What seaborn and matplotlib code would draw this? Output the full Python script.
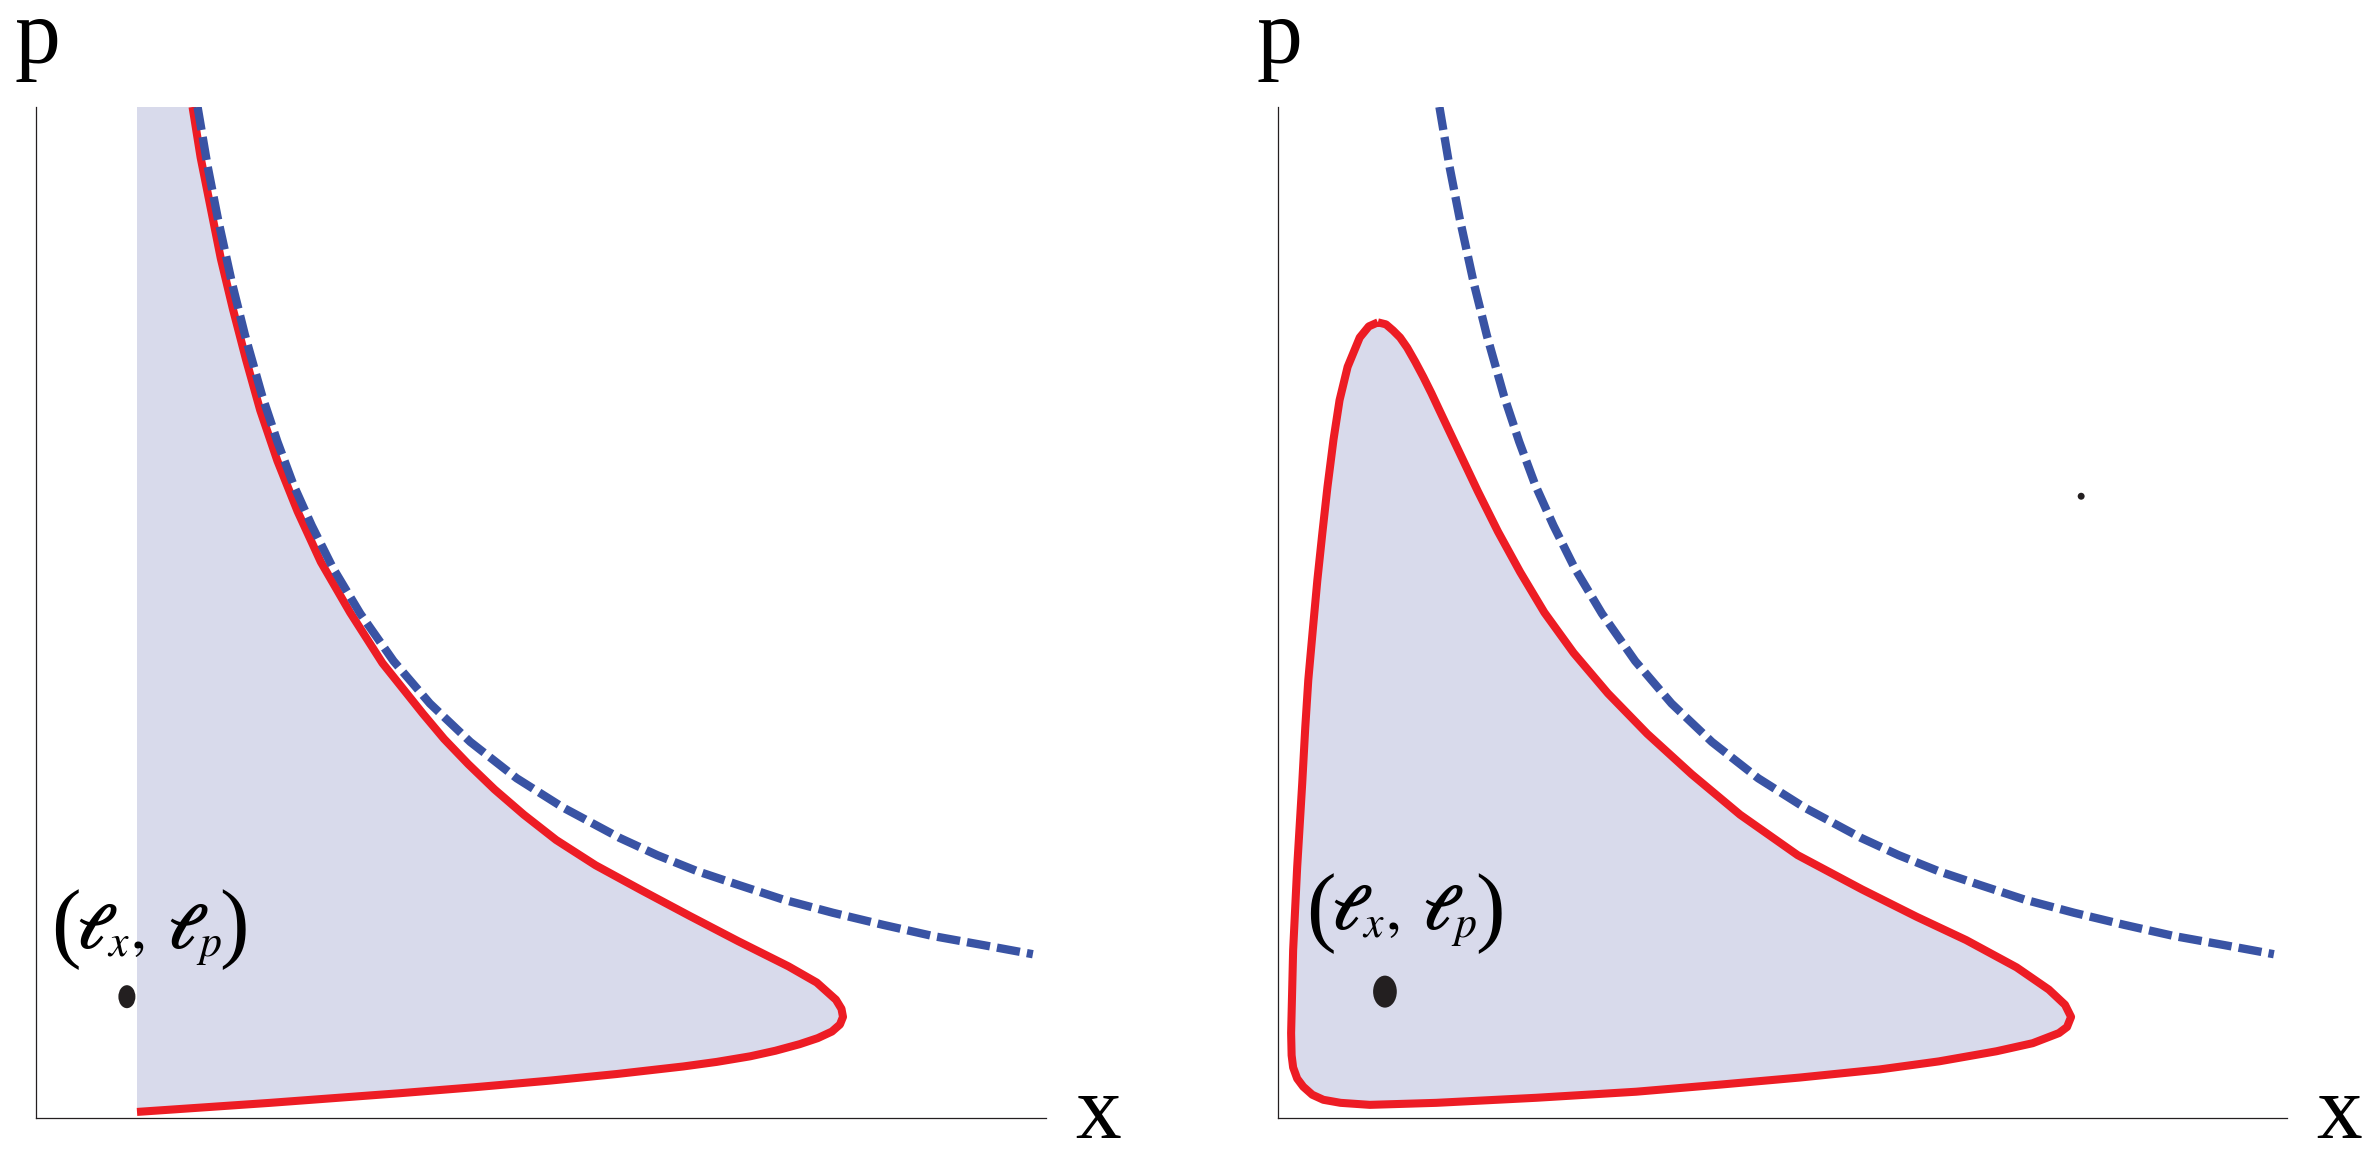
import numpy as np
import matplotlib
matplotlib.use('Agg')
import matplotlib.pyplot as plt
from matplotlib.path import Path
import seaborn as sns

# ---------------------------------------------------------------------------
# data (axes run 0..10 in both x and p)
# ---------------------------------------------------------------------------

# blue dashed bound, identical in both panels
bound_x = [1.60, 1.70, 1.80, 1.94, 2.07, 2.24, 2.39, 2.55, 2.73, 2.94, 3.21,
           3.54, 3.90, 4.30, 4.76, 5.22, 5.78, 6.15, 6.55, 6.94, 7.40, 7.89,
           8.39, 8.88, 9.38, 9.87]
bound_p = [10.00, 9.41, 8.90, 8.26, 7.74, 7.14, 6.69, 6.26, 5.86, 5.44, 4.99,
           4.52, 4.10, 3.72, 3.36, 3.07, 2.77, 2.60, 2.44, 2.31, 2.16, 2.03,
           1.91, 1.80, 1.71, 1.62]

# left panel: red boundary (open at the left edge)
left_red_x = [1.55, 1.63, 1.73, 1.83, 1.95, 2.08, 2.22, 2.39, 2.59, 2.82, 3.11,
              3.43, 3.83, 4.04, 4.28, 4.54, 4.83, 5.15, 5.54, 6.00, 6.47, 6.95,
              7.45, 7.73, 7.92, 7.975, 7.99, 7.96, 7.88, 7.74, 7.56, 7.32, 7.07,
              6.74, 6.41, 5.75, 5.09, 4.35, 3.60, 2.32, 1.00]
left_red_p = [10.00, 9.50, 9.00, 8.50, 8.00, 7.50, 7.00, 6.50, 6.00, 5.50, 5.00,
              4.50, 4.00, 3.75, 3.50, 3.25, 3.00, 2.75, 2.50, 2.25, 2.00, 1.75,
              1.50, 1.34, 1.17, 1.08, 1.00, 0.925, 0.855, 0.79, 0.73, 0.665,
              0.61, 0.555, 0.51, 0.435, 0.37, 0.305, 0.245, 0.15, 0.06]
left_edge_x = 1.00
top_p = 10.00

# right panel: closed red boundary, clockwise from the peak
right_red_x = [0.99, 1.07, 1.14, 1.21, 1.28, 1.36, 1.44, 1.52, 1.60, 1.79, 1.98,
               2.18, 2.40, 2.64, 2.93, 3.27, 3.66, 4.10, 4.58, 5.15, 5.79, 6.33,
               6.82, 7.32, 7.64, 7.80, 7.86, 7.82, 7.74, 7.48, 7.12, 6.55, 5.96,
               5.17, 4.38, 3.55, 2.56, 1.57, 0.91, 0.62, 0.45, 0.34, 0.25, 0.19,
               0.15, 0.135, 0.13, 0.15, 0.19, 0.24, 0.27, 0.30, 0.345, 0.39,
               0.44, 0.49, 0.55, 0.61, 0.69, 0.81, 0.90, 0.99]
right_red_p = [7.87, 7.85, 7.79, 7.72, 7.62, 7.48, 7.33, 7.17, 7.00, 6.60, 6.20,
               5.80, 5.40, 5.00, 4.60, 4.20, 3.80, 3.40, 3.00, 2.60, 2.26, 1.99,
               1.76, 1.49, 1.27, 1.12, 1.00, 0.90, 0.84, 0.74, 0.66, 0.56, 0.48,
               0.40, 0.33, 0.26, 0.20, 0.15, 0.13, 0.15, 0.18, 0.23, 0.31, 0.39,
               0.50, 0.62, 0.84, 1.66, 2.48, 3.31, 3.86, 4.33, 4.83, 5.32, 5.79,
               6.24, 6.71, 7.10, 7.43, 7.72, 7.83, 7.87]

# the (l_x, l_p) points and the small extra point
left_point = (0.90, 1.20)
right_point = (1.06, 1.25)
extra_point = (7.96, 6.15)

# label pieces: inner text (baseline) and the two parentheses (centre)
left_label = (1.124, 1.68)
left_parens = ((0.30, 1.86), (1.96, 1.86))
right_label = (1.25, 1.86)
right_parens = ((0.42, 2.02), (2.10, 2.02))
point_label = r'$\boldsymbol{\ell}_{x},\;\boldsymbol{\ell}_{p}$'

# ---------------------------------------------------------------------------
# style
# ---------------------------------------------------------------------------
sns.set_style('white')
plt.rcParams['font.family'] = ['Liberation Serif', 'DejaVu Serif']
plt.rcParams['mathtext.fontset'] = 'stix'

RED = '#ed1c24'
BLUE = '#3953a4'
FILL = '#d8daeb'
INK = '#231f20'

circ = Path.unit_circle()
ellipse = Path(circ.vertices * np.array([0.74, 1.0]), circ.codes)

fig = plt.figure(figsize=(23.79, 11.64), dpi=100)
ax_l = fig.add_axes([36 / 2379, 46 / 1164, 1010 / 2379, 1011 / 1164])
ax_r = fig.add_axes([1278 / 2379, 46 / 1164, 1009 / 2379, 1011 / 1164])


def setup(ax):
    ax.set_xlim(0, 10)
    ax.set_ylim(0, 10)
    ax.set_xticks([])
    ax.set_yticks([])
    sns.despine(ax=ax)
    for s in ['left', 'bottom']:
        ax.spines[s].set_color(INK)
        ax.spines[s].set_linewidth(0.9)
    ax.text(-0.021, 1.0435, 'p', transform=ax.transAxes, fontsize=66,
            ha='left', va='baseline', color='black')
    ax.text(1.0515, -0.0198, 'x', transform=ax.transAxes, fontsize=66,
            ha='center', va='baseline', color='black')


def draw_label(ax, pos, parens):
    ax.text(pos[0], pos[1], point_label, fontsize=45, ha='center',
            va='baseline', color='black', zorder=6)
    for ch, (px, py) in zip('()', parens):
        ax.text(px, py, ch, fontsize=64, ha='center', va='center',
                color='black', zorder=6)


def draw_curves(ax, red_x, red_p):
    sns.lineplot(x=red_x, y=red_p, sort=False, estimator=None,
                 color=RED, linewidth=5.8, ax=ax, zorder=3)
    sns.lineplot(x=bound_x, y=bound_p, sort=False, estimator=None,
                 color=BLUE, linewidth=6.0, linestyle=(0, (2.8, 0.85)),
                 ax=ax, zorder=4)


# ---------------------------------------------------------------------------
# left panel
# ---------------------------------------------------------------------------
ax = ax_l
setup(ax)
ax.fill(left_red_x + [left_edge_x, left_red_x[0]],
        left_red_p + [top_p, top_p], color=FILL, lw=0, zorder=1)
draw_curves(ax, left_red_x, left_red_p)
sns.scatterplot(x=[left_point[0]], y=[left_point[1]], marker=ellipse, s=274,
                color=INK, edgecolor='none', ax=ax, zorder=5)
draw_label(ax, left_label, left_parens)

# ---------------------------------------------------------------------------
# right panel
# ---------------------------------------------------------------------------
ax = ax_r
setup(ax)
ax.fill(right_red_x, right_red_p, color=FILL, lw=0, zorder=1)
draw_curves(ax, right_red_x, right_red_p)
sns.scatterplot(x=[right_point[0]], y=[right_point[1]], marker=ellipse, s=531,
                color=INK, edgecolor='none', ax=ax, zorder=5)
sns.scatterplot(x=[extra_point[0]], y=[extra_point[1]], marker='o', s=25,
                color=INK, edgecolor='none', ax=ax, zorder=5)
draw_label(ax, right_label, right_parens)

for a in (ax_l, ax_r):
    for ln in a.lines:
        ln.set_solid_joinstyle('round')
        ln.set_solid_capstyle('butt')
    if a.get_legend() is not None:
        a.get_legend().remove()

fig.savefig('out.png', dpi=100)
